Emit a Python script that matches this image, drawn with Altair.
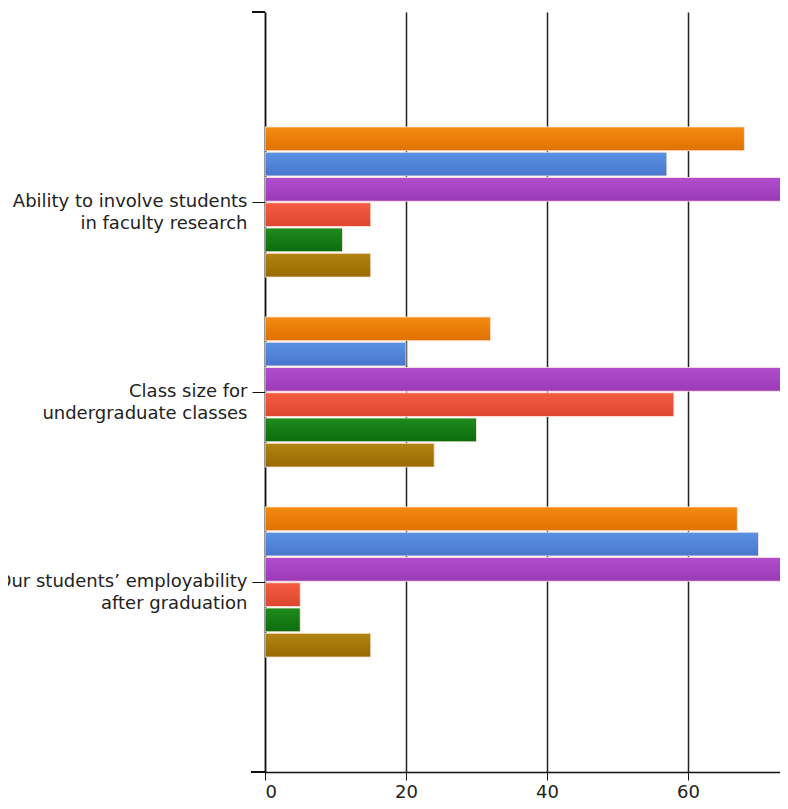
import altair as alt
import pandas as pd

categories = [
    "Ability to involve students|in faculty research",
    "Class size for|undergraduate classes",
    "Our students\u2019 employability|after graduation",
]
series = ["Series 1", "Series 2", "Series 3", "Series 4", "Series 5", "Series 6"]

s1_orange = [68, 32, 67]
s2_blue = [57, 20, 70]
s3_purple = [85, 85, 85]   # runs past the visible right edge
s4_red = [15, 58, 5]
s5_green = [11, 30, 5]
s6_brown = [15, 24, 15]

tops = ["#F58A12", "#5A92E4", "#B24ECE", "#F55C42", "#1E8C1E", "#B28412"]
bottoms = ["#E07200", "#4877CC", "#9A3AB6", "#DE4630", "#0C6C0C", "#986A00"]

values = [s1_orange, s2_blue, s3_purple, s4_red, s5_green, s6_brown]
rows = []
for s, vals in zip(series, values):
    for c, v in zip(categories, vals):
        rows.append({"category": c, "series": s, "value": v})
df = pd.DataFrame(rows)

FONT = "DejaVu Sans"

base = alt.Chart(df).encode(
    y=alt.Y(
        "category:N",
        sort=categories,
        scale=alt.Scale(paddingInner=0.21, paddingOuter=0.605),
        axis=alt.Axis(
            title=None,
            labelExpr="split(datum.label, '|')",
            labelFont=FONT,
            labelFontSize=18,
            labelColor="#222222",
            labelLineHeight=22,
            labelLimit=0,
            labelPadding=5,
            tickSize=13,
            tickColor="#111111",
            domainColor="#111111",
            domainWidth=1.5,
            grid=False,
        ),
    ),
    yOffset=alt.YOffset("series:N", sort=series, scale=alt.Scale(domain=series, paddingInner=0.06)),
    x=alt.X(
        "value:Q",
        scale=alt.Scale(domain=[0, 73.05], nice=False, zero=True),
        axis=alt.Axis(
            title=None,
            values=[0, 20, 40, 60],
            labelFont=FONT,
            labelFontSize=18,
            labelColor="#222222",
            labelPadding=3,
            tickSize=8,
            tickColor="#111111",
            domainColor="#111111",
            domainWidth=1.5,
            grid=True,
            gridColor="#222222",
            gridWidth=1.5,
        ),
    ),
)

layers = []
for s, top, bot in zip(series, tops, bottoms):
    grad = alt.LinearGradient(
        gradient="linear", x1=0, x2=0, y1=0, y2=1,
        stops=[alt.GradientStop(offset=0, color=top), alt.GradientStop(offset=1, color=bot)],
    )
    layers.append(
        base.transform_filter(alt.datum.series == s).mark_bar(
            color=grad, stroke="#FFE8E0", strokeWidth=1, strokeOpacity=0.8, clip=True
        )
    )

top_tick = alt.Chart(df).mark_rule(color="#111111", strokeWidth=1.5).encode(
    x=alt.value(-13), x2=alt.value(0), y=alt.value(0)
)
axis_ext = alt.Chart(df).mark_rule(color="#111111", strokeWidth=1.5).encode(
    x=alt.value(-14), x2=alt.value(0), y=alt.value(760)
)

chart = alt.layer(*layers, top_tick, axis_ext).properties(
    width=515,
    height=760,
    autosize=alt.AutoSizeParams(type="none"),
    padding={"left": 257, "top": 4, "right": 0, "bottom": 28},
).configure_view(strokeWidth=0)

chart.save("out.html", embed_options={"renderer": "svg", "actions": False})
